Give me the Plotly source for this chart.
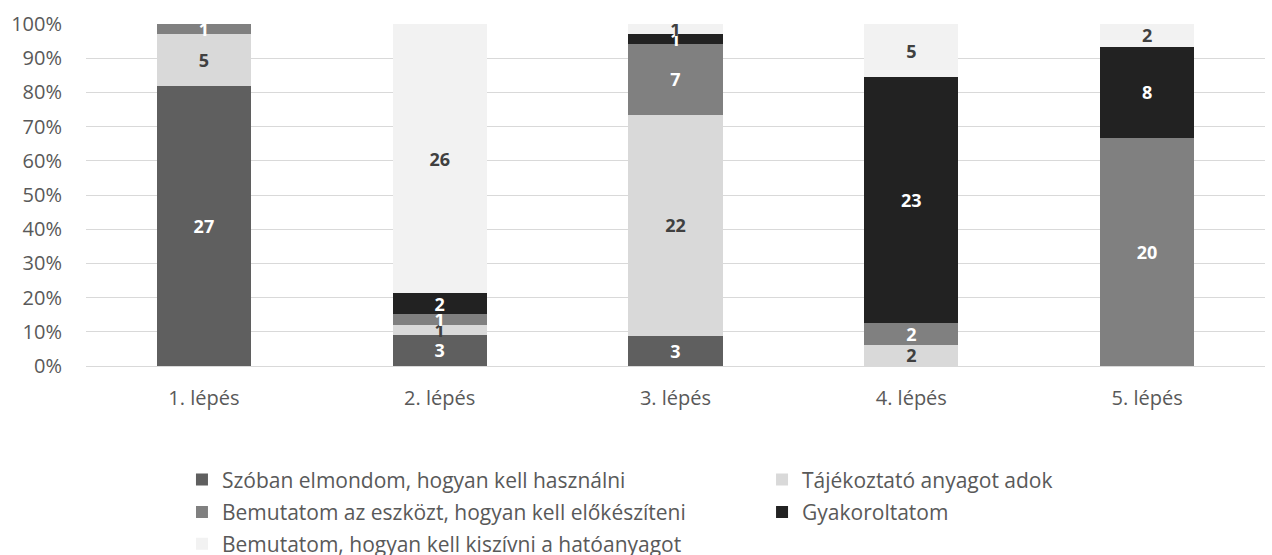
import plotly.graph_objects as go

categories = ["1. lépés", "2. lépés", "3. lépés", "4. lépés", "5. lépés"]
series_names = [
    "Szóban elmondom, hogyan kell használni",
    "Tájékoztató anyagot adok",
    "Bemutatom az eszközt, hogyan kell előkészíteni",
    "Gyakoroltatom",
    "Bemutatom, hogyan kell kiszívni a hatóanyagot",
]
szoban = [27, 3, 3, 0, 0]
tajekoztato = [5, 1, 22, 2, 0]
bemutatom_eszkozt = [1, 1, 7, 2, 20]
gyakoroltatom = [0, 2, 1, 23, 8]
bemutatom_kiszivni = [0, 26, 1, 5, 2]

values = [szoban, tajekoztato, bemutatom_eszkozt, gyakoroltatom, bemutatom_kiszivni]
colors = ["#5f5f5f", "#d9d9d9", "#808080", "#222222", "#f2f2f2"]
text_colors = ["#ffffff", "#404040", "#ffffff", "#ffffff", "#404040"]
legend_ids = ["legend", "legend2", "legend3", "legend4", "legend5"]

FONT = "Open Sans"

fig = go.Figure()
for name, vals, col, tcol, lg in zip(series_names, values, colors, text_colors, legend_ids):
    fig.add_trace(go.Bar(
        x=categories, y=vals, name=name,
        marker=dict(color=col, line=dict(width=0)),
        text=[str(v) if v else "" for v in vals],
        textposition="inside", insidetextanchor="middle",
        textfont=dict(family=FONT, size=18, color=tcol, weight="bold"),
        textangle=0,
        hoverinfo="skip",
        legend=lg,
        showlegend=True,
    ))

leg_common = dict(orientation="h", xanchor="left", yanchor="middle",
                  font=dict(family=FONT, size=21, color="#595959"),
                  bgcolor="rgba(0,0,0,0)", borderwidth=0, visible=True)

# legend positions in paper coordinates (plot area: x 86..1265, y 24..366)
col1_x, col2_x = 0.0814, 0.5734
row_y = [-0.333, -0.428, -0.521]

fig.update_layout(
    width=1272, height=555,
    margin=dict(l=86, r=7, t=24, b=189, autoexpand=False),
    showlegend=True,
    barmode="stack", barnorm="fraction", bargap=0.6,
    plot_bgcolor="white", paper_bgcolor="white",
    font=dict(family=FONT, size=20, color="#595959"),
    uniformtext=dict(minsize=18, mode="show"),
    xaxis=dict(showgrid=False, showline=True, linecolor="#d9d9d9", linewidth=1,
               ticks="", tickfont=dict(size=20, color="#595959"), ticklabelstandoff=14),
    yaxis=dict(range=[0, 1], tickvals=[i / 10 for i in range(11)], tickformat=".0%",
               showgrid=True, gridcolor="#d9d9d9", gridwidth=1, zeroline=False,
               showline=False, ticks="", tickfont=dict(size=20, color="#595959"),
               ticklabelstandoff=23),
    legend=dict(x=col1_x, y=row_y[0], **leg_common),
    legend2=dict(x=col2_x, y=row_y[0], **leg_common),
    legend3=dict(x=col1_x, y=row_y[1], **leg_common),
    legend4=dict(x=col2_x, y=row_y[1], **leg_common),
    legend5=dict(x=col1_x, y=row_y[2], **leg_common),
)

fig.write_html("out.html")
